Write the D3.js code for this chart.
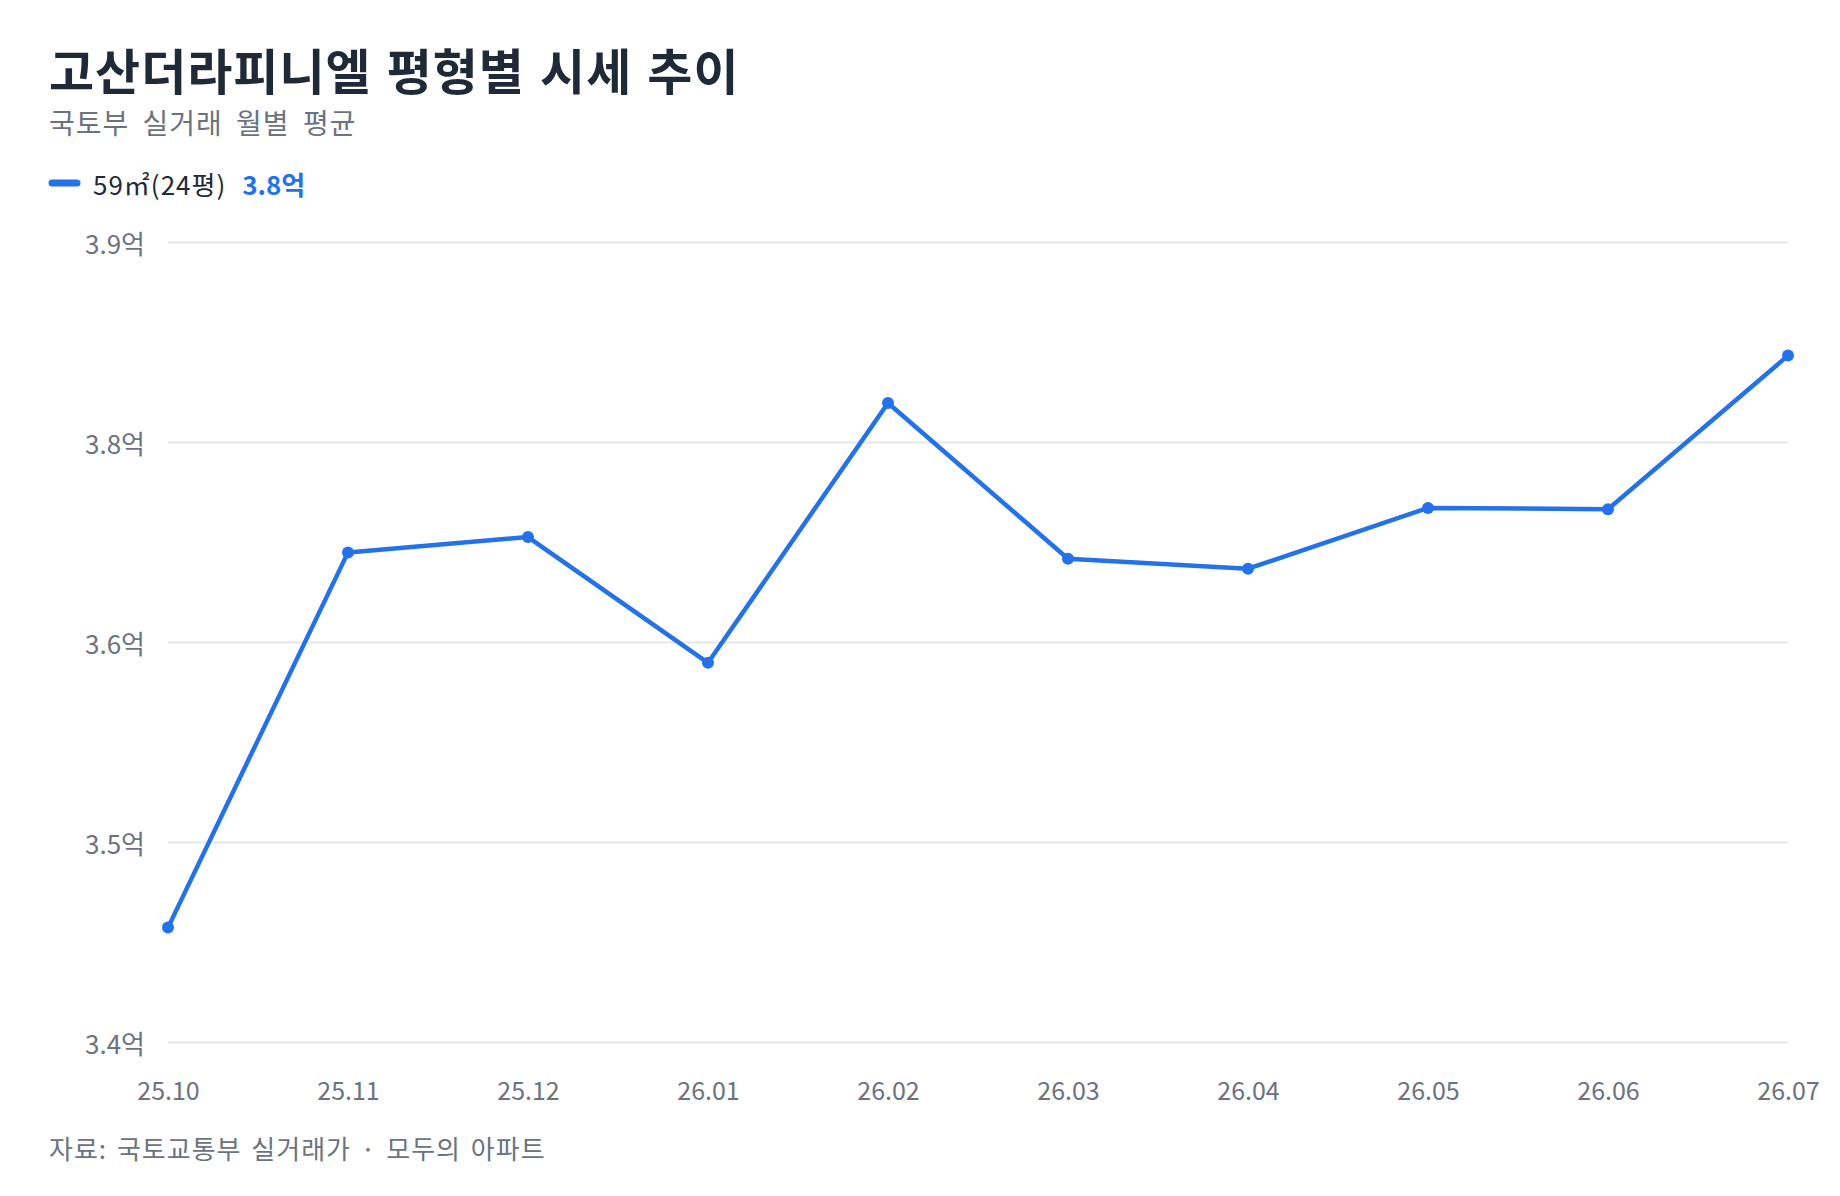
<!DOCTYPE html>
<html>
<head>
<meta charset="utf-8">
<script src="https://cdn.jsdelivr.net/npm/d3@7"></script>
<style>
  html, body { margin: 0; padding: 0; background: #fff; }
  svg { display: block; font-family: "Noto Sans CJK KR", "Noto Sans", sans-serif; }
</style>
</head>
<body>
<svg id="chart" width="1840" height="1196"></svg>
<script>
// values in 억원
const months = ["25.10", "25.11", "25.12", "26.01", "26.02", "26.03", "26.04", "26.05", "26.06", "26.07"];
const price59 = [3.4715, 3.706, 3.7156, 3.637, 3.7994, 3.702, 3.6958, 3.7338, 3.733, 3.829];
const yTicks = [3.4, 3.525, 3.65, 3.775, 3.9];
const yDomain = [3.4, 3.9];

const title = "고산더라피니엘 평형별 시세 추이";
const subtitle = "국토부 실거래 월별 평균";
const seriesName = "59㎡(24평)";
const source = "자료: 국토교통부 실거래가 · 모두의 아파트";

const blue = "#2472ea";
const margin = {top: 242, right: 52, bottom: 154, left: 168};
const W = 1840, H = 1196;
const width = W - margin.left - margin.right,
      height = H - margin.top - margin.bottom;

const svg = d3.select("#chart");

svg.append("text")
  .attr("x", 49).attr("y", 68)
  .attr("dominant-baseline", "central")
  .attr("font-size", 49).attr("font-weight", 700)
  .attr("letter-spacing", 1).attr("word-spacing", 3)
  .attr("fill", "#1f2937")
  .text(title);

svg.append("text")
  .attr("x", 49).attr("y", 122)
  .attr("dominant-baseline", "central")
  .attr("font-size", 28)
  .attr("letter-spacing", 1).attr("word-spacing", 6)
  .attr("fill", "#6b7280")
  .text(subtitle);

// legend
const legend = svg.append("g");
legend.append("line")
  .attr("x1", 52).attr("x2", 77).attr("y1", 183).attr("y2", 183)
  .attr("stroke", blue).attr("stroke-width", 7).attr("stroke-linecap", "round");
const lt = legend.append("text")
  .attr("x", 93).attr("y", 183)
  .attr("dominant-baseline", "central")
  .attr("font-size", 26);
lt.append("tspan").attr("fill", "#1f2937").attr("letter-spacing", 1).text(seriesName);
lt.append("tspan").attr("dx", 16).attr("fill", blue).attr("font-weight", 700)
  .text(price59[price59.length - 1].toFixed(1) + "억");

const g = svg.append("g").attr("transform", `translate(${margin.left},${margin.top})`);

const x = d3.scalePoint().domain(months).range([0, width]);
const y = d3.scaleLinear().domain(yDomain).range([height, 0]);

const yAxis = d3.axisLeft(y)
  .tickValues(yTicks)
  .tickSize(-width)
  .tickPadding(23)
  .tickFormat(d => d.toFixed(1) + "억");

g.append("g").attr("class", "y-axis").call(yAxis)
  .attr("font-family", null)
  .call(s => s.select(".domain").remove())
  .call(s => s.selectAll(".tick line").attr("stroke", "#e5e7eb").attr("stroke-width", 2))
  .call(s => s.selectAll(".tick text")
    .attr("dy", null)
    .attr("dominant-baseline", "central")
    .attr("font-size", 26)
    .attr("fill", "#6b7280"));

const xAxis = d3.axisBottom(x).tickSize(0).tickPadding(47);

g.append("g").attr("class", "x-axis")
  .attr("transform", `translate(0,${height})`)
  .call(xAxis)
  .attr("font-family", null)
  .call(s => s.select(".domain").remove())
  .call(s => s.selectAll(".tick text")
    .attr("dy", null)
    .attr("dominant-baseline", "central")
    .attr("font-size", 25)
    .attr("fill", "#6b7280"));

const line = d3.line()
  .x((d, i) => x(months[i]))
  .y(d => y(d));

g.append("path")
  .datum(price59)
  .attr("fill", "none")
  .attr("stroke", blue)
  .attr("stroke-width", 4.5)
  .attr("stroke-linejoin", "round")
  .attr("d", line);

g.selectAll(".dot")
  .data(price59)
  .join("circle")
  .attr("class", "dot")
  .attr("cx", (d, i) => x(months[i]))
  .attr("cy", d => y(d))
  .attr("r", 6)
  .attr("fill", blue);

svg.append("text")
  .attr("x", 49).attr("y", 1147)
  .attr("dominant-baseline", "central")
  .attr("font-size", 26)
  .attr("letter-spacing", 1).attr("word-spacing", 3)
  .attr("fill", "#6b7280")
  .text(source);
</script>
</body>
</html>
